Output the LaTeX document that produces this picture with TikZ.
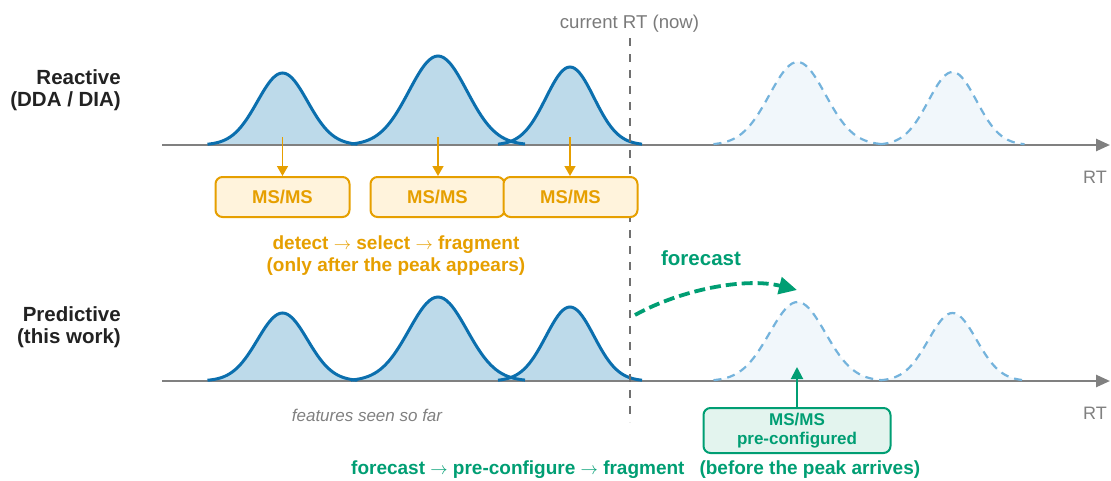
\documentclass[tikz,border=0pt]{standalone}
\usepackage{fontspec}
\setmainfont{Liberation Sans}
\usetikzlibrary{arrows.meta}

\definecolor{labeldark}{HTML}{222222}
\definecolor{axisgray}{HTML}{808080}
\definecolor{nowgray}{HTML}{707070}
\definecolor{textgray}{HTML}{7A7A7A}
\definecolor{peakblue}{HTML}{0B6FAE}
\definecolor{peakfill}{HTML}{BDDAEA}
\definecolor{futureline}{HTML}{74B3DC}
\definecolor{futurefill}{HTML}{F1F7FB}
\definecolor{amber}{HTML}{E69F00}
\definecolor{amberfill}{HTML}{FFF3DC}
\definecolor{teal}{HTML}{009E73}
\definecolor{tealfill}{HTML}{E3F4EE}

% thin, long arrow used inside the step descriptions
\newcommand\thinarrow{$\rightarrow$}

\begin{document}
\begin{tikzpicture}[x=1pt,y=-1pt,
  rowlabel/.style={font=\fontsize{20.5}{22}\selectfont\bfseries, text=labeldark, inner sep=0pt},
  axisline/.style={draw=axisgray, line width=2.5pt, -{Triangle[length=14pt,width=12pt]}},
  rtlabel/.style={font=\fontsize{18}{20}\selectfont, text=axisgray, inner sep=0pt},
  seenfill/.style={fill=peakfill},
  seenline/.style={draw=peakblue, line width=3pt},
  nextfill/.style={fill=futurefill},
  nextline/.style={draw=futureline, line width=2.2pt, dash pattern=on 8pt off 6pt},
  msbox/.style={draw=amber, fill=amberfill, line width=2pt, rounded corners=7pt,
    minimum width=134pt, minimum height=40pt, inner sep=0pt, text=amber,
    font=\fontsize{18.5}{20}\selectfont\bfseries},
  prebox/.style={draw=teal, fill=tealfill, line width=2pt, rounded corners=7pt,
    minimum width=187pt, minimum height=45pt, inner sep=0pt, text=teal, align=center,
    font=\fontsize{17}{19.5}\selectfont\bfseries},
  amberarrow/.style={draw=amber, line width=1.6pt, -{Triangle[length=10pt,width=11pt]}},
  tealarrow/.style={draw=teal, line width=2pt, -{Triangle[length=12pt,width=12pt]}},
  ambertext/.style={font=\fontsize{19}{22}\selectfont\bfseries, text=amber, inner sep=0pt},
  tealtext/.style={font=\fontsize{19}{22}\selectfont\bfseries, text=teal, inner sep=0pt},
  nowline/.style={draw=nowgray, line width=2pt, dash pattern=on 8pt off 8pt},
  forecastarrow/.style={draw=teal, line width=3.8pt, dash pattern=on 11pt off 5pt,
    -{Triangle[length=18pt,width=17pt]}}
]
\useasboundingbox (0,0) rectangle (1111,480);

% peaks already observed (solid) in both rows: centre/sigma/height/baseline
\foreach \c/\s/\h/\b in {282.5/25/72/145, 438/29/89/145, 570/24/78/145,
                         282.5/25/68/381, 438/29/84/381, 570/24/74/381} {
  \pgfmathsetmacro\lo{\c-3*\s}
  \pgfmathsetmacro\hi{\c+3*\s}
  \fill[seenfill] plot[domain=\lo:\hi, samples=61, smooth]
    (\x,{\b-\h*exp(-0.5*((\x-\c)/\s)^2)}) -- cycle;
}
% peaks still to come (dashed)
\foreach \c/\s/\h/\b in {797.5/28/83/145, 952.5/24/73/145,
                         797.5/28/79/381, 952.5/24/68/381} {
  \pgfmathsetmacro\lo{\c-3*\s}
  \pgfmathsetmacro\hi{\c+3*\s}
  \fill[nextfill] plot[domain=\lo:\hi, samples=61, smooth]
    (\x,{\b-\h*exp(-0.5*((\x-\c)/\s)^2)}) -- cycle;
}

% retention-time axes
\coordinate (axA0) at (162,145);
\coordinate (axA1) at (1110,145);
\coordinate (axB0) at (162,381);
\coordinate (axB1) at (1110,381);
\draw[axisline] (axA0) -- (axA1);
\draw[axisline] (axB0) -- (axB1);

% peak outlines
\foreach \c/\s/\h/\b in {282.5/25/72/145, 438/29/89/145, 570/24/78/145,
                         282.5/25/68/381, 438/29/84/381, 570/24/74/381} {
  \pgfmathsetmacro\lo{\c-3*\s}
  \pgfmathsetmacro\hi{\c+3*\s}
  \draw[seenline] plot[domain=\lo:\hi, samples=61, smooth]
    (\x,{\b-\h*exp(-0.5*((\x-\c)/\s)^2)});
}
\foreach \c/\s/\h/\b in {797.5/28/83/145, 952.5/24/73/145,
                         797.5/28/79/381, 952.5/24/68/381} {
  \pgfmathsetmacro\lo{\c-3*\s}
  \pgfmathsetmacro\hi{\c+3*\s}
  \draw[nextline] plot[domain=\lo:\hi, samples=61, smooth]
    (\x,{\b-\h*exp(-0.5*((\x-\c)/\s)^2)});
}

% current retention time marker
\coordinate (nowT) at (629.5,38);
\coordinate (nowB) at (629.5,422);
\draw[nowline] (nowT) -- (nowB);
\node[anchor=base, inner sep=0pt, text=textgray, font=\fontsize{18.6}{20}\selectfont]
  (nowlabel) at (629.5,28) {current RT (now)};

% row labels
\node[rowlabel, anchor=base east] (reactA) at (121,84) {Reactive};
\node[rowlabel, anchor=base east] (reactB) at (121,106) {(DDA / DIA)};
\node[rowlabel, anchor=base east] (predA) at (121,321) {Predictive};
\node[rowlabel, anchor=base east] (predB) at (121,343) {(this work)};

\node[rtlabel] (rtA) at (1095,177) {RT};
\node[rtlabel] (rtB) at (1095,413) {RT};

% reactive acquisition: MS/MS triggered after each peak
\node[msbox] (ms1) at (282.5,197) {MS/MS};
\node[msbox] (ms2) at (437.5,197) {MS/MS};
\node[msbox] (ms3) at (570.5,197) {MS/MS};
\coordinate (trig1) at (282.5,137);
\coordinate (trig2) at (438,137);
\coordinate (trig3) at (570,137);
\draw[amberarrow] (trig1) -- (ms1.north);
\draw[amberarrow] (trig2) -- (ms2.north -| trig2);
\draw[amberarrow] (trig3) -- (ms3.north -| trig3);

\node[ambertext, anchor=base] (reactnote1) at (396,249) {detect \thinarrow{} select \thinarrow{} fragment};
\node[ambertext, anchor=base] (reactnote2) at (396,271) {(only after the peak appears)};

% predictive acquisition: forecast ahead of the peak
\node[tealtext, font=\fontsize{20.5}{22}\selectfont\bfseries, anchor=base] (fc) at (701,265) {forecast};
\coordinate (fcS) at (635,315);
\coordinate (fcE) at (797,290);
\draw[forecastarrow] (fcS) .. controls (680,290) and (745,277) .. (fcE);

\node[prebox] (pre) at (797,430.5) {MS/MS\\pre-configured};
\coordinate (preT) at (797,367);
\draw[tealarrow] (pre.north) -- (preT);

\node[anchor=base, inner sep=0pt, text=axisgray, font=\fontsize{17}{19}\selectfont\itshape]
  (seen) at (367,421) {features seen so far};

\node[tealtext, anchor=base west] (prednote) at (351,474)
  {forecast \thinarrow{} pre-configure \thinarrow{} fragment\hspace{15pt}(before the peak arrives)};
\end{tikzpicture}
\end{document}
